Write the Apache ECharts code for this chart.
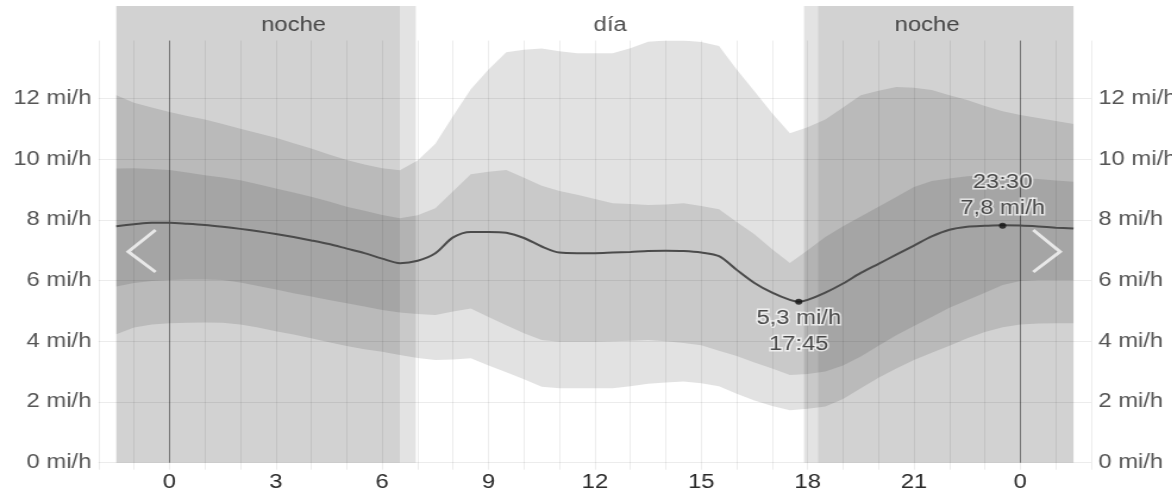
<!DOCTYPE html>
<html><head><meta charset="utf-8">
<script src="https://cdn.jsdelivr.net/npm/echarts@6/dist/echarts.min.js"></script>
<style>
html,body{margin:0;padding:0;background:#fff;overflow:hidden;}
#wrap{width:1172px;height:491px;overflow:hidden;position:relative;}
#chart{width:985px;height:491px;transform:scaleX(1.19);transform-origin:0 0;}
</style></head><body>
<div id="wrap"><div id="chart"></div></div>
<script>
// ---- data (hours of day, wind speed in mi/h) ----
const hours = [-1.5,-1,-0.5,0,0.5,1,1.5,2,2.5,3,3.5,4,4.5,5,5.5,6,6.5,7,7.5,8,8.5,9,9.5,10,10.5,11,11.5,12,12.5,13,13.5,14,14.5,15,15.5,16,16.5,17,17.5,18,18.5,19,19.5,20,20.5,21,21.5,22,22.5,23,23.5,24,24.5,25,25.5];
const outerHigh = [12.1,11.85,11.7,11.55,11.42,11.3,11.15,11.0,10.85,10.7,10.52,10.35,10.15,9.97,9.82,9.7,9.63,9.95,10.5,11.42,12.3,12.95,13.52,13.6,13.64,13.55,13.48,13.48,13.48,13.65,13.86,13.9,13.9,13.85,13.72,12.95,12.23,11.51,10.85,11.05,11.3,11.7,12.1,12.25,12.37,12.35,12.27,12.1,11.94,11.75,11.57,11.45,11.35,11.25,11.15];
const outerLow = [4.23,4.45,4.55,4.59,4.61,4.62,4.61,4.55,4.45,4.33,4.22,4.1,3.97,3.84,3.74,3.65,3.55,3.45,3.38,3.4,3.44,3.2,2.98,2.75,2.5,2.45,2.45,2.45,2.45,2.52,2.6,2.64,2.67,2.62,2.52,2.27,2.05,1.87,1.73,1.78,1.85,2.1,2.45,2.8,3.1,3.38,3.62,3.85,4.1,4.3,4.46,4.55,4.58,4.59,4.59];
const innerHigh = [9.69,9.7,9.67,9.64,9.56,9.47,9.39,9.3,9.17,9.03,8.9,8.76,8.6,8.43,8.3,8.16,8.05,8.15,8.38,8.94,9.5,9.58,9.64,9.38,9.12,8.95,8.82,8.68,8.54,8.52,8.49,8.5,8.54,8.45,8.35,7.93,7.52,7.03,6.58,7.0,7.43,7.79,8.11,8.43,8.75,9.08,9.28,9.36,9.43,9.47,9.42,9.38,9.34,9.29,9.25];
const innerLow = [5.8,5.92,5.98,6.02,6.03,6.03,6.02,5.93,5.82,5.7,5.58,5.47,5.36,5.25,5.14,5.03,4.95,4.9,4.86,4.98,5.08,4.8,4.53,4.26,4.04,3.98,3.98,3.98,4.0,4.02,4.04,4.0,3.94,3.87,3.69,3.51,3.3,3.1,2.89,2.92,3.0,3.2,3.5,3.85,4.2,4.5,4.8,5.1,5.35,5.6,5.85,5.98,6.02,6.02,6.02];
const medianHours = [-1.5,-1,-0.5,0,0.5,1,1.5,2,2.5,3,3.5,4,4.5,5,5.5,6,6.5,7,7.5,8,8.5,9,9.5,10,10.5,11,11.5,12,12.5,13,13.5,14,14.5,15,15.5,16,16.5,17,17.5,17.75,18,18.5,19,19.5,20,20.5,21,21.5,22,22.5,23,23.5,24,24.5,25,25.5];
const median = [7.79,7.85,7.9,7.9,7.87,7.83,7.77,7.7,7.62,7.53,7.43,7.32,7.2,7.05,6.9,6.72,6.57,6.65,6.9,7.42,7.6,7.6,7.57,7.4,7.12,6.92,6.9,6.9,6.92,6.94,6.97,6.98,6.97,6.92,6.8,6.35,5.92,5.6,5.36,5.3,5.36,5.6,5.9,6.25,6.55,6.85,7.15,7.45,7.67,7.77,7.8,7.82,7.81,7.78,7.74,7.71];
const extremeHours = [17.75, 23.5];
const extremeValues = [5.3, 7.8];
// day / night periods (hours)
const dataStart = -1.5, dataEnd = 25.5;
const dawn = 6.5, sunrise = 6.95, sunset = 17.9, dusk = 18.3;
const periodNames = ['noche', 'día', 'noche'];
const periodLabelHours = [3.5, 12.43, 21.37];
const yTicks = [0, 2, 4, 6, 8, 10, 12];
const unit = 'mi/h';

// ---- helpers ----
const pairs = (xs, ys) => xs.map((x, i) => [x, ys[i]]);
const fmtNum = v => v.toFixed(1).replace('.', ',');
const fmtTime = h => { const hh = Math.floor(h), mm = Math.round((h - hh) * 60); return hh + ':' + String(mm).padStart(2, '0'); };

const FONT = '"Liberation Sans", Arial, sans-serif';
const chart = echarts.init(document.getElementById('chart'), null, {renderer: 'canvas'});
const gl = 82.8, gr = 68, gb = 28.3;
const splitColors = yTicks.map(() => 'rgba(0,0,0,0.075)').concat(['rgba(0,0,0,0)']);

function bandSeries(low, high, color) {
  return {
    type: 'custom', xAxisIndex: 0, yAxisIndex: 0, silent: true, z: 2, clip: true,
    data: hours.map((h, i) => [h, low[i], high[i]]),
    encode: {x: 0, y: [1, 2]},
    renderItem: (params, api) => {
      if (params.dataIndex !== 0) return null;
      const pts = [];
      for (let i = 0; i < hours.length; i++) pts.push(api.coord([hours[i], high[i]]));
      for (let i = hours.length - 1; i >= 0; i--) pts.push(api.coord([hours[i], low[i]]));
      return {type: 'polygon', shape: {points: pts}, style: {fill: color, stroke: null}};
    }
  };
}

const option = {
  animation: false,
  backgroundColor: '#ffffff',
  grid: [
    {left: gl, right: gr, top: 40.6, bottom: gb, containLabel: false, outerBoundsMode: 'none'},
    {left: gl, right: gr, top: 6, bottom: gb, containLabel: false, outerBoundsMode: 'none'}
  ],
  xAxis: [
    {gridIndex: 0, type: 'value', min: -2, max: 26, interval: 1,
     axisLine: {show: false},
     axisTick: {show: true, length: 7, lineStyle: {color: 'rgba(0,0,0,0.07)'}},
     splitLine: {show: true, lineStyle: {color: 'rgba(0,0,0,0.07)', width: 1}},
     axisLabel: {formatter: v => (v >= 0 && v <= 24 && v % 3 === 0) ? String(v % 24) : '',
                 color: '#2a2a2a', fontSize: 20, fontFamily: FONT, margin: 10, showMinLabel: true, showMaxLabel: true}},
    {gridIndex: 1, type: 'value', min: -2, max: 26, show: false}
  ],
  yAxis: [
    {gridIndex: 0, type: 'value', min: 0, max: 13.9, interval: 2, position: 'left',
     axisLine: {show: false}, axisTick: {show: false},
     splitLine: {show: true, lineStyle: {color: splitColors, width: 1}},
     axisLabel: {formatter: v => yTicks.includes(v) ? v + ' ' + unit : '', color: '#555', fontSize: 20, fontFamily: FONT, margin: 6}},
    {gridIndex: 0, type: 'value', min: 0, max: 13.9, interval: 2, position: 'right',
     axisLine: {show: false}, axisTick: {show: false}, splitLine: {show: false},
     axisLabel: {formatter: v => yTicks.includes(v) ? v + ' ' + unit : '', color: '#555', fontSize: 20, fontFamily: FONT, margin: 6}},
    {gridIndex: 1, type: 'value', min: 0, max: 15.04, show: false}
  ],
  series: [
    // night + twilight shading, and period names
    {type: 'scatter', xAxisIndex: 1, yAxisIndex: 2, symbolSize: 0, silent: true, z: 1,
     data: periodNames.map((n, i) => ({name: n, value: [periodLabelHours[i], 14.41]})),
     label: {show: true, position: 'inside', formatter: p => p.name, color: '#222', fontSize: 20, fontFamily: FONT},
     markArea: {silent: true, itemStyle: {color: 'rgba(0,0,0,0.11)'},
       data: [[{xAxis: dataStart}, {xAxis: sunrise}], [{xAxis: sunset}, {xAxis: dataEnd}]]}},
    {type: 'line', xAxisIndex: 1, yAxisIndex: 2, data: [], silent: true, z: 1,
     markArea: {silent: true, itemStyle: {color: 'rgba(0,0,0,0.075)'},
       data: [[{xAxis: dataStart}, {xAxis: dawn}], [{xAxis: dusk}, {xAxis: dataEnd}]]}},
    bandSeries(outerLow, outerHigh, 'rgba(0,0,0,0.115)'),
    bandSeries(innerLow, innerHigh, 'rgba(0,0,0,0.11)'),
    // median
    {type: 'line', xAxisIndex: 0, yAxisIndex: 0, symbol: 'none', smooth: 0.3, z: 5,
     data: pairs(medianHours, median), lineStyle: {color: '#4b4b4b', width: 2},
     markLine: {silent: true, symbol: 'none', label: {show: false},
       lineStyle: {color: 'rgba(0,0,0,0.42)', width: 1, type: 'solid'},
       data: [{xAxis: 0}, {xAxis: 24}]}},
    // extremes
    {type: 'scatter', xAxisIndex: 0, yAxisIndex: 0, symbolSize: 6, z: 6,
     itemStyle: {color: '#111'},
     data: extremeHours.map((h, i) => {
       const v = extremeValues[i];
       const isMin = i === 0;
       return {value: [h, v], label: {show: true, position: isMin ? 'bottom' : 'top', distance: 1,
         formatter: isMin ? fmtNum(v) + ' ' + unit + '\n' + fmtTime(h) : fmtTime(h) + '\n' + fmtNum(v) + ' ' + unit}};
     }),
     label: {color: '#222', fontSize: 20, fontFamily: FONT, lineHeight: 26, align: 'center',
             textBorderColor: 'rgba(255,255,255,0.85)', textBorderWidth: 3}}
  ],
  graphic: [
    {type: 'polyline', z: 100, silent: true, shape: {points: [[130.7, 230], [107.8, 251.7], [130.7, 272]]},
     style: {stroke: 'rgba(255,255,255,0.75)', lineWidth: 3, fill: null}},
    {type: 'polyline', z: 100, silent: true, shape: {points: [[868.3, 230], [890.8, 251.7], [868.3, 272]]},
     style: {stroke: 'rgba(255,255,255,0.75)', lineWidth: 3, fill: null}}
  ]
};
chart.setOption(option);
</script>
</body></html>
